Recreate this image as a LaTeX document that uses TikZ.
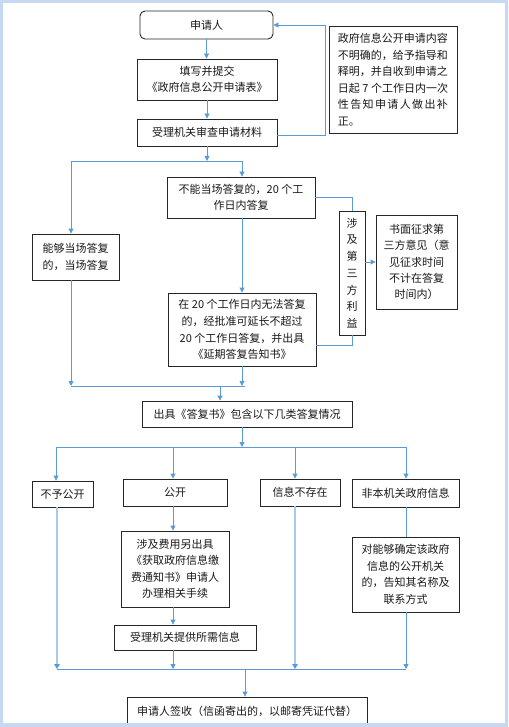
\documentclass[tikz,border=0pt]{standalone}
\usepackage{fontspec}
\setmainfont{Noto Sans CJK SC}
\usetikzlibrary{arrows.meta,calc}
\definecolor{lineblue}{HTML}{5B9BD5}
\definecolor{lightline}{HTML}{A9CBEA}
\definecolor{framec}{HTML}{C6D9F0}
\definecolor{boxline}{HTML}{262626}
\begin{document}
\begin{tikzpicture}[x=1pt,y=-1pt,
  box/.style={draw=boxline,line width=0.9pt,inner sep=0pt,align=center,text=black!90,
    font=\fontsize{11}{16.5}\selectfont},
  conn/.style={draw=lineblue,line width=0.9pt},
  arr/.style={conn,-{Triangle[width=5pt,length=5pt]}},
  larr/.style={draw=lightline,line width=1.6pt,-{Triangle[width=5.5pt,length=5pt,color=lineblue]}},
]
\useasboundingbox (0,0) rectangle (508,727);
\fill[white] (0,0) rectangle (508,727);

% boxes
\node[box,rounded corners=5pt,minimum width=133,minimum height=28] (a) at (206.5,25) {申请人};
\node[box,minimum width=140,minimum height=41] (b) at (207,79.5) {填写并提交\\《政府信息公开申请表》};
\node[box,minimum width=140,minimum height=27] (c) at (207,132.5) {受理机关审查申请材料};
\node[box,minimum width=128,minimum height=107,align=left] (note) at (393,79.5)
  {政府信息公开申请内容\\不明确的，给予指导和\\释明，并自收到申请之\\日起 7 个工作日内一次\\
   \makebox[110pt][s]{性\hfill 告\hfill 知\hfill 申\hfill 请\hfill 人\hfill 做\hfill 出\hfill 补}\\正。};
\node[box,minimum width=148,minimum height=41] (d) at (241,197.5) {不能当场答复的，20 个工\\作日内答复};
\node[box,minimum width=87,minimum height=46] (e) at (75.5,257) {能够当场答复\\的，当场答复};
\node[box,minimum width=26,minimum height=124,font=\fontsize{11}{16.7}\selectfont] (f) at (352,273)
  {涉\\及\\第\\三\\方\\利\\益};
\node[box,minimum width=81,minimum height=94,font=\fontsize{11}{16.4}\selectfont] (g) at (416.5,262)
  {书面征求第\\三方意见（意\\见征求时间\\不计在答复\\时间内）};
\node[box,minimum width=148,minimum height=73,font=\fontsize{11}{16.7}\selectfont] (h) at (242,329.5)
  {在 20 个工作日内无法答复\\的，经批准可延长不超过\\20 个工作日答复，并出具\\《延期答复告知书》};
\node[box,minimum width=210,minimum height=26] (i) at (247,414) {出具《答复书》包含以下几类答复情况};
\node[box,minimum width=61,minimum height=26] (j) at (62.5,494) {不予公开};
\node[box,minimum width=104,minimum height=27] (k) at (175,492.5) {公开};
\node[box,minimum width=80,minimum height=27] (l) at (300,492.5) {信息不存在};
\node[box,minimum width=107,minimum height=28] (m) at (405.5,493) {非本机关政府信息};
\node[box,minimum width=108,minimum height=76] (n) at (175,569)
  {涉及费用另出具\\《获取政府信息缴\\费通知书》申请人\\办理相关手续};
\node[box,minimum width=107,minimum height=75] (o) at (405.5,574.5)
  {对能够确定该政府\\信息的公开机关\\的，告知其名称及\\联系方式};
\node[box,minimum width=142,minimum height=25] (p) at (185,637.5) {受理机关提供所需信息};
\node[box,minimum width=240,minimum height=28] (q) at (247,711) {申请人签收（信函寄出的，以邮寄凭证代替）};

% connectors
\draw[arr] (a.south) -- (a.south |- b.north);
\draw[arr] (c.north |- b.south) -- (c.north);

\coordinate (fb) at (325,135);
\draw[arr] (c.east |- fb) -- (fb) |- (a.east);

\coordinate (s1L) at (71,161);
\coordinate (s1R) at (242,161);
\draw[arr] (c.south) -- (c.south |- s1L);
\draw[conn] (s1L) -- (s1R);
\draw[arr] (s1L) -- (s1L |- e.north);
\draw[arr] (s1R) -- (s1R |- d.north);

\draw[conn] (d.east) -| (f.north);
\draw[arr] (f.east |- g.west) -- (g.west);
\coordinate (fh) at (352,345);
\draw[conn] (f.south) -- (fh) -- (fh -| h.east);
\draw[arr] (s1R |- d.south) -- (s1R |- h.north);

\coordinate (m2L) at (71,386);
\coordinate (m2R) at (245,386);
\coordinate (m2o) at (220,386);
\draw[arr] (m2L |- e.south) -- (m2L);
\draw[arr] (s1R |- h.south) -- (s1R |- m2L);
\draw[conn] (m2L) -- (m2R);
\draw[arr] (m2o) -- (m2o |- i.north);

\coordinate (s3) at (242,447);
\coordinate (s3L) at (56,447);
\coordinate (s3b) at (173,447);
\coordinate (s3c) at (295,447);
\coordinate (s3R) at (406,447);
\draw[arr] (s3 |- i.south) -- (s3);
\draw[conn] (s3L) -- (s3R);
\draw[arr] (s3L) -- (s3L |- j.north);
\draw[arr] (s3b) -- (s3b |- k.north);
\draw[arr] (s3c) -- (s3c |- l.north);
\draw[arr] (s3R) -- (s3R |- m.north);

\draw[arr] (s3b |- k.south) -- (s3b |- n.north);
\draw[conn] (s3R |- m.south) -- (s3R |- o.north);
\draw[arr] (s3b |- n.south) -- (s3b |- p.north);

\coordinate (m4L) at (57,669);
\coordinate (m4b) at (173,669);
\coordinate (m4c) at (295,669);
\coordinate (m4R) at (406,669);
\coordinate (m4o) at (245,669);
\draw[conn] (m4L) -- (m4R);
\draw[larr] (m4L |- j.south) -- (m4L);
\draw[arr] (m4b |- p.south) -- (m4b);
\draw[larr] (m4c |- l.south) -- (m4c);
\draw[arr] (m4R |- o.south) -- (m4R);
\draw[arr] (m4o) -- (m4o |- q.north);

% frame
\fill[framec,even odd rule] (0,0) rectangle (508,727) (3,3) rectangle (505,723);
\end{tikzpicture}
\end{document}
